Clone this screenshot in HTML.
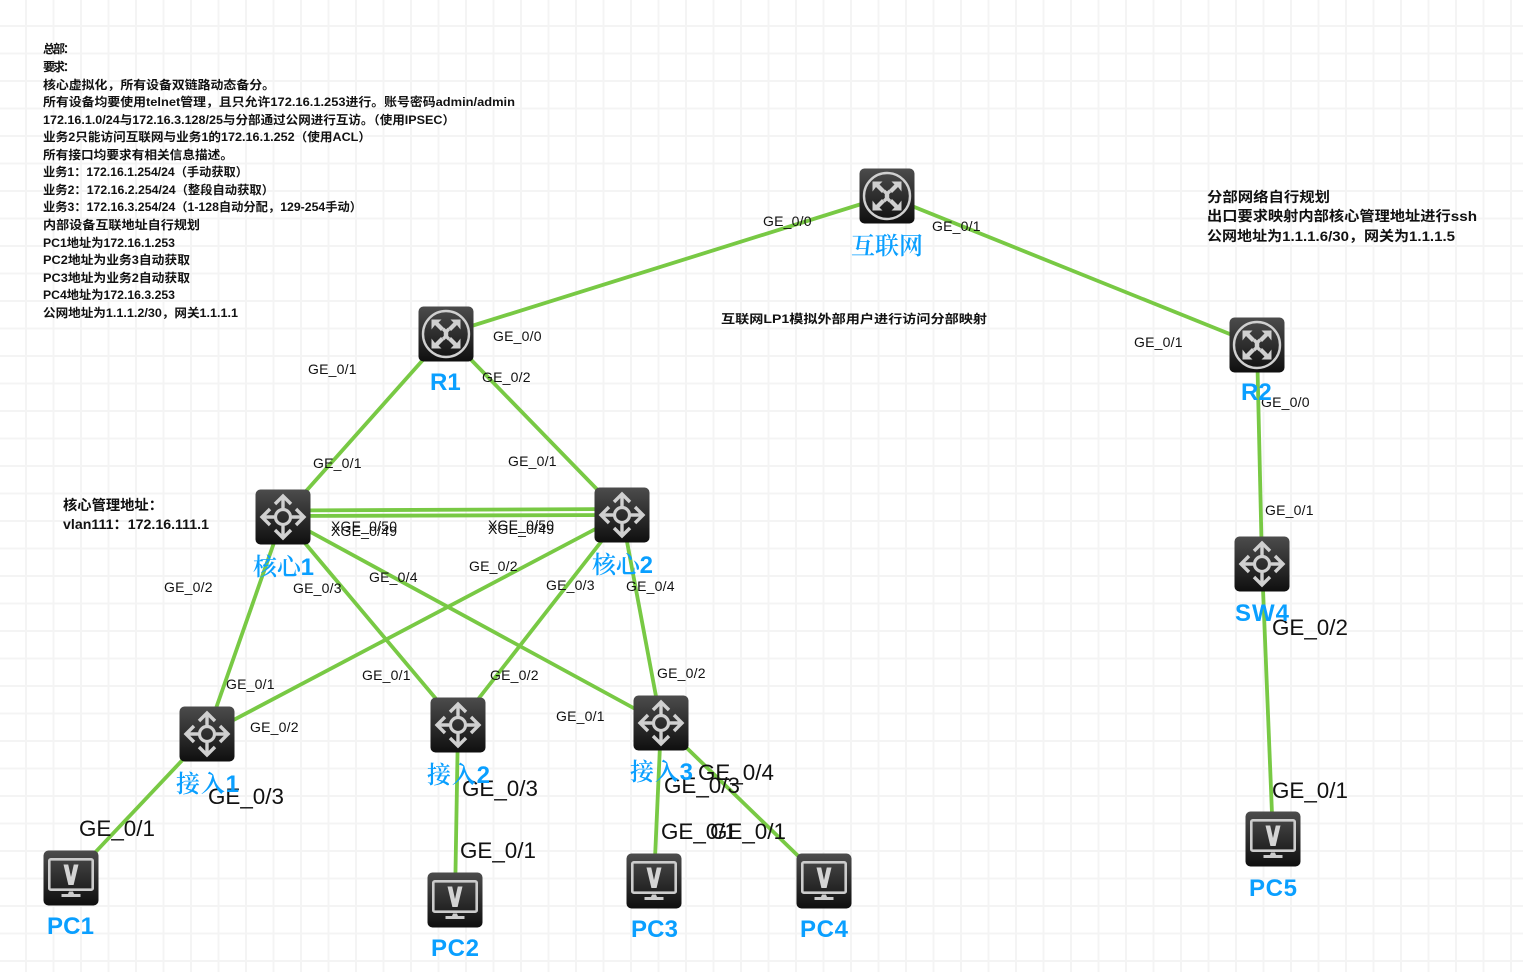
<!DOCTYPE html>
<html><head><meta charset="utf-8"><style>
html,body{margin:0;padding:0;background:#fff;width:1523px;height:972px;overflow:hidden}
svg{display:block}
.t{font-family:"Liberation Sans","Noto Sans CJK SC",sans-serif;font-size:12px;font-weight:700;fill:#111}
.r{font-family:"Liberation Sans","Noto Sans CJK SC",sans-serif;font-size:14px;font-weight:700;fill:#111}
.g{font-family:"Liberation Sans",sans-serif;font-size:14px;fill:#111;letter-spacing:.2px}
.G{font-family:"Liberation Sans",sans-serif;font-size:22.4px;fill:#111}
.n{font-family:"Liberation Sans","Noto Serif CJK SC",serif;font-size:24px;font-weight:700;fill:#0a9fff}
.c{font-family:"Liberation Sans","Noto Serif CJK SC",serif;font-size:24px;fill:#0a9fff;font-weight:600}
</style></head><body>
<svg width="1523" height="972" viewBox="0 0 1523 972" xmlns="http://www.w3.org/2000/svg">
<defs>
<pattern id="grid" x="25" y="25" width="27.5" height="27.5" patternUnits="userSpaceOnUse">
<rect x="0" y="0" width="2" height="27.5" fill="#f4f4f4"/><rect x="0" y="0" width="27.5" height="2" fill="#f4f4f4"/>
</pattern>
<linearGradient id="bg" x1="0" y1="0" x2="0" y2="1"><stop offset="0" stop-color="#4c4c4c"/><stop offset="1" stop-color="#0f0f0f"/></linearGradient>
<g id="sw">
<rect x="-27.5" y="-27.5" width="55" height="55" rx="5" fill="url(#bg)"/>
<circle r="7.5" fill="none" stroke="#d0d0d0" stroke-width="3.2"/>
<g fill="none" stroke="#d0d0d0" stroke-width="3.4">
<path d="M0,-9V-20M-8,-13L0,-21L8,-13"/><path d="M0,9V20M-8,13L0,21L8,13"/>
<path d="M-9,0H-20M-13,-8L-21,0L-13,8"/><path d="M9,0H20M13,-8L21,0L13,8"/>
</g>
</g>
<g id="q">
<path d="M-14.5,-14.5H-4.5L-7.5,-11.5L-2,-6L-5,-3L-11,-9L-14.5,-4.5Z" fill="#d0d0d0"/>
<path d="M-2,-6Q2,-3 0,0" fill="none" stroke="#d0d0d0" stroke-width="3.4" transform="translate(-1,1)"/>
</g>
<g id="rt">
<rect x="-27.5" y="-27.5" width="55" height="55" rx="5" fill="url(#bg)"/>
<circle r="23" fill="none" stroke="#d0d0d0" stroke-width="2.4"/>
<use href="#q"/>
<use href="#q" transform="scale(-1,1)"/>
<use href="#q" transform="scale(1,-1)"/>
<use href="#q" transform="scale(-1,-1)"/>
</g>
<g id="pc">
<rect x="-27.5" y="-27.5" width="55" height="55" rx="5" fill="url(#bg)"/>
<rect x="-21.7" y="-18.7" width="43.4" height="30.4" rx="1.5" fill="none" stroke="#cccccc" stroke-width="2.6"/>
<path d="M-7.5,-13.5H-2.8L0,-1L2.8,-13.5H7.5L2.6,7H-2.6Z" fill="#d4d4d4"/>
<path d="M-2,13.5H2L3,16H9.5V19H-9.5V16H-3Z" fill="#cccccc"/>
</g>
</defs>
<rect width="1523" height="972" fill="#fff"/>
<rect width="1523" height="972" fill="url(#grid)"/>

<g stroke="#78c944" stroke-width="3.8" fill="none">
<line x1="887" y1="196" x2="446" y2="334"/>
<line x1="887" y1="196" x2="1257" y2="345"/>
<line x1="446" y1="334" x2="283" y2="517"/>
<line x1="446" y1="334" x2="622" y2="515"/>
<line x1="283" y1="510.5" x2="622" y2="509"/>
<line x1="283" y1="516" x2="622" y2="515"/>
<line x1="283" y1="517" x2="207" y2="734"/>
<line x1="283" y1="517" x2="458" y2="725"/>
<line x1="283" y1="517" x2="661" y2="723"/>
<line x1="622" y1="515" x2="207" y2="734"/>
<line x1="622" y1="515" x2="458" y2="725"/>
<line x1="622" y1="515" x2="661" y2="723"/>
<line x1="207" y1="734" x2="71" y2="878"/>
<line x1="458" y1="725" x2="455" y2="900"/>
<line x1="661" y1="723" x2="654" y2="881"/>
<line x1="661" y1="723" x2="824" y2="881"/>
<line x1="1257" y1="345" x2="1262" y2="564"/>
<line x1="1262" y1="564" x2="1273" y2="839"/>
</g>

<use href="#rt" x="887" y="196"/>
<use href="#rt" x="446" y="334"/>
<use href="#rt" x="1257" y="345"/>
<use href="#sw" x="283" y="517"/>
<use href="#sw" x="622" y="515"/>
<use href="#sw" x="1262" y="564"/>
<use href="#sw" x="207" y="734"/>
<use href="#sw" x="458" y="725"/>
<use href="#sw" x="661" y="723"/>
<use href="#pc" x="71" y="878"/>
<use href="#pc" x="455" y="900"/>
<use href="#pc" x="654" y="881"/>
<use href="#pc" x="824" y="881"/>
<use href="#pc" x="1273" y="839"/>

<g>
<text class="t" x="43" y="53" textLength="32" lengthAdjust="spacing">总部：</text>
<text class="t" x="43" y="71" textLength="32" lengthAdjust="spacing">要求：</text>
<text class="t" x="43" y="89" textLength="232" lengthAdjust="spacingAndGlyphs">核心虚拟化，所有设备双链路动态备分。</text>
<text class="t" x="43" y="106" textLength="472" lengthAdjust="spacingAndGlyphs">所有设备均要使用telnet管理，且只允许172.16.1.253进行。账号密码admin/admin</text>
<text class="t" x="43" y="124" textLength="412" lengthAdjust="spacingAndGlyphs">172.16.1.0/24与172.16.3.128/25与分部通过公网进行互访。（使用IPSEC）</text>
<text class="t" x="43" y="141" textLength="328" lengthAdjust="spacingAndGlyphs">业务2只能访问互联网与业务1的172.16.1.252（使用ACL）</text>
<text class="t" x="43" y="159" textLength="190" lengthAdjust="spacingAndGlyphs">所有接口均要求有相关信息描述。</text>
<text class="t" x="43" y="176" textLength="205" lengthAdjust="spacingAndGlyphs">业务1：172.16.1.254/24（手动获取）</text>
<text class="t" x="43" y="194" textLength="231" lengthAdjust="spacingAndGlyphs">业务2：172.16.2.254/24（整段自动获取）</text>
<text class="t" x="43" y="211" textLength="319" lengthAdjust="spacingAndGlyphs">业务3：172.16.3.254/24（1-128自动分配，129-254手动）</text>
<text class="t" x="43" y="229" textLength="157" lengthAdjust="spacingAndGlyphs">内部设备互联地址自行规划</text>
<text class="t" x="43" y="247" textLength="132" lengthAdjust="spacingAndGlyphs">PC1地址为172.16.1.253</text>
<text class="t" x="43" y="264" textLength="147" lengthAdjust="spacingAndGlyphs">PC2地址为业务3自动获取</text>
<text class="t" x="43" y="282" textLength="147" lengthAdjust="spacingAndGlyphs">PC3地址为业务2自动获取</text>
<text class="t" x="43" y="299" textLength="132" lengthAdjust="spacingAndGlyphs">PC4地址为172.16.3.253</text>
<text class="t" x="43" y="317" textLength="195" lengthAdjust="spacingAndGlyphs">公网地址为1.1.1.2/30，网关1.1.1.1</text>
</g>

<text class="r" x="1207" y="202" textLength="123" lengthAdjust="spacingAndGlyphs">分部网络自行规划</text>
<text class="r" x="1207" y="221" textLength="270" lengthAdjust="spacingAndGlyphs">出口要求映射内部核心管理地址进行ssh</text>
<text class="r" x="1207" y="241" textLength="248" lengthAdjust="spacingAndGlyphs">公网地址为1.1.1.6/30，网关为1.1.1.5</text>
<text class="t" x="721" y="323" textLength="266" lengthAdjust="spacingAndGlyphs">互联网LP1模拟外部用户进行访问分部映射</text>
<text class="r" x="63" y="510" textLength="100" lengthAdjust="spacingAndGlyphs">核心管理地址：</text>
<text class="r" x="63" y="529" textLength="146" lengthAdjust="spacingAndGlyphs">vlan111：172.16.111.1</text>

<g>
<text class="g" x="763" y="226">GE_0/0</text>
<text class="g" x="932" y="231">GE_0/1</text>
<text class="g" x="493" y="341">GE_0/0</text>
<text class="g" x="308" y="374">GE_0/1</text>
<text class="g" x="482" y="382">GE_0/2</text>
<text class="g" x="1134" y="347">GE_0/1</text>
<text class="g" x="1261" y="407">GE_0/0</text>
<text class="g" x="313" y="468">GE_0/1</text>
<text class="g" x="508" y="466">GE_0/1</text>
<text class="g" x="1265" y="515">GE_0/1</text>
<text class="g" x="331" y="531">XGE_0/50</text>
<text class="g" x="331" y="536">XGE_0/49</text>
<text class="g" x="488" y="530">XGE_0/50</text>
<text class="g" x="488" y="534">XGE_0/49</text>
<text class="g" x="369" y="582">GE_0/4</text>
<text class="g" x="469" y="571">GE_0/2</text>
<text class="g" x="164" y="592">GE_0/2</text>
<text class="g" x="293" y="593">GE_0/3</text>
<text class="g" x="546" y="590">GE_0/3</text>
<text class="g" x="626" y="591">GE_0/4</text>
<text class="g" x="657" y="678">GE_0/2</text>
<text class="g" x="362" y="680">GE_0/1</text>
<text class="g" x="490" y="680">GE_0/2</text>
<text class="g" x="226" y="689">GE_0/1</text>
<text class="g" x="556" y="721">GE_0/1</text>
<text class="g" x="250" y="732">GE_0/2</text>
</g>
<text class="G" x="1272" y="635">GE_0/2</text>
<text class="G" x="208" y="804">GE_0/3</text>
<text class="G" x="462" y="796">GE_0/3</text>
<text class="G" x="664" y="793">GE_0/3</text>
<text class="G" x="698" y="780">GE_0/4</text>
<text class="G" x="79" y="836">GE_0/1</text>
<text class="G" x="460" y="858">GE_0/1</text>
<text class="G" x="661" y="839">GE_0/1</text>
<text class="G" x="710" y="839">GE_0/1</text>
<text class="G" x="1272" y="798">GE_0/1</text>

<text class="c" x="851" y="254">互联网</text>
<text class="n" x="430" y="390">R1</text>
<text class="n" x="1241" y="400">R2</text>
<text class="c" x="253" y="575" textLength="61">核心<tspan class="n">1</tspan></text>
<text class="c" x="592" y="573" textLength="61">核心<tspan class="n">2</tspan></text>
<text class="n" x="1235" y="621" textLength="54">SW4</text>
<text class="c" x="176" y="792" textLength="63">接入<tspan class="n">1</tspan></text>
<text class="c" x="427" y="783" textLength="63">接入<tspan class="n">2</tspan></text>
<text class="c" x="630" y="780" textLength="63">接入<tspan class="n">3</tspan></text>
<text class="n" x="47" y="934" textLength="47">PC1</text>
<text class="n" x="431" y="956" textLength="48">PC2</text>
<text class="n" x="631" y="937" textLength="47">PC3</text>
<text class="n" x="800" y="937" textLength="48">PC4</text>
<text class="n" x="1249" y="896" textLength="48">PC5</text>
</svg>
</body></html>
